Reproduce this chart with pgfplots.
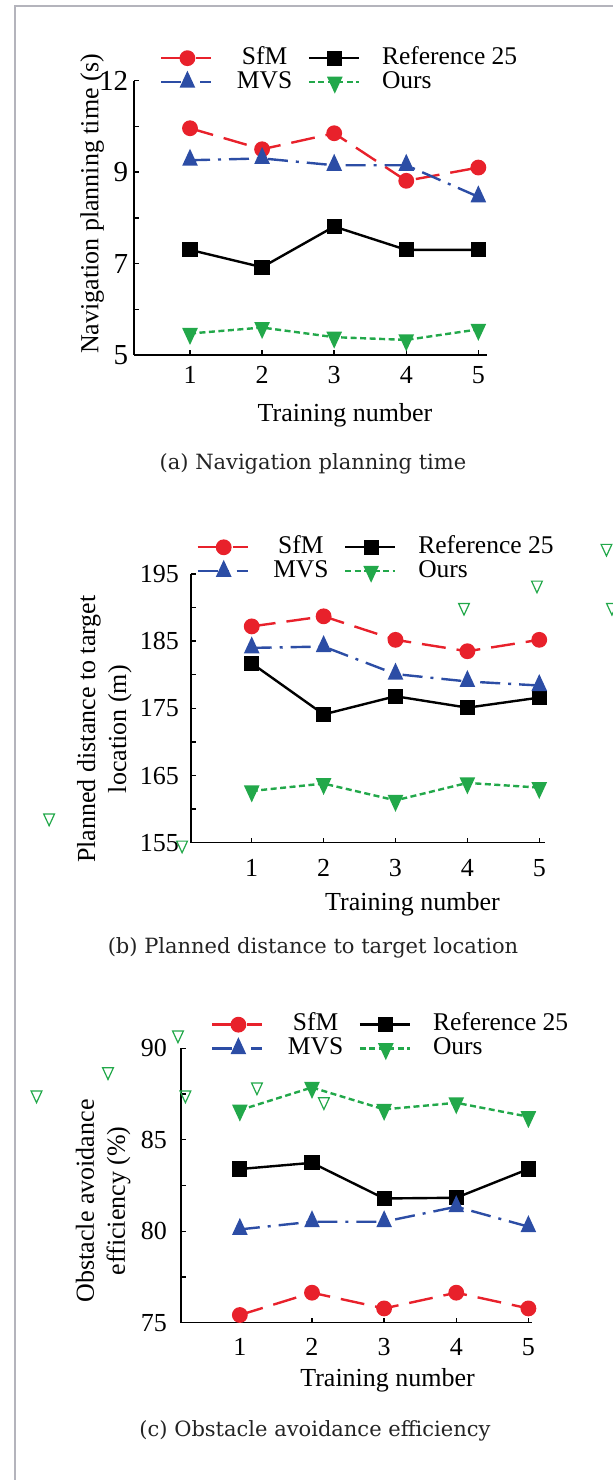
\documentclass[border=0pt]{standalone}
\usepackage{fontspec}
\usepackage{pgfplots}
\pgfplotsset{compat=1.18}
\setmainfont{Liberation Serif}
\newfontfamily\capfont{DejaVu Serif}

\definecolor{sfmred}{RGB}{232,33,43}
\definecolor{mvsblue}{RGB}{44,77,165}
\definecolor{oursgreen}{RGB}{34,168,74}
\definecolor{framegray}{RGB}{180,180,188}
\definecolor{captext}{RGB}{35,35,35}

\tikzset{captionnode/.style={font=\capfont\fontsize{21bp}{24bp}\selectfont,text=captext,anchor=base}}

\pgfplotsset{
  trainaxis/.style={
    scale only axis,
    anchor=south west,
    axis x line*=bottom,
    axis y line*=left,
    axis line style={line width=1.6bp,-},
    xtick={1,2,3,4,5},
    tick align=inside,
    major tick length=5bp,
    tick style={line width=1.4bp,black},
    /pgf/number format/assume math mode=true,
    tick label style={font=\fontsize{26bp}{28bp}\selectfont},
    xticklabel style={anchor=north,inner sep=0pt,text height=17bp,text depth=0pt},
    yticklabel style={anchor=east,inner sep=0pt,text height=17bp,text depth=0pt},
    label style={font=\fontsize{26bp}{31bp}\selectfont},
    xlabel={Training number},
    clip=false,
    legend columns=2,
    legend cell align=left,
    legend style={draw=none,fill=none,inner sep=0pt,row sep=0pt,
      font=\fontsize{25.5bp}{28bp}\selectfont,
      nodes={inner sep=0pt,text height=18bp,text depth=6bp},
      /tikz/every odd column/.append style={column sep=22bp},
      /tikz/every even column/.append style={column sep=13bp}},
    legend image code/.code={%
      \draw[mark repeat=2,mark phase=2,##1] plot coordinates {(0bp,0bp) (26bp,0bp) (50bp,0bp)};},
  },
  sfm/.style={color=sfmred,line width=2.4bp,dash pattern=on 24bp off 11bp,
    mark=*,mark size=6.7bp,mark options={solid,fill=sfmred}},
  refer/.style={color=black,line width=2.4bp,solid,
    mark=square*,mark size=6.4bp,mark options={solid,fill=black}},
  mvs/.style={color=mvsblue,line width=2.4bp,dash pattern=on 20bp off 8bp on 3bp off 8bp,
    mark=triangle*,mark size=6.9bp,mark options={solid,fill=mvsblue,yscale=1.25}},
  ours/.style={color=oursgreen,line width=2.4bp,dash pattern=on 6bp off 3.5bp,
    mark=triangle*,mark size=6.9bp,mark options={solid,fill=oursgreen,yscale=-1.25}},
  stray/.style={only marks,mark=triangle,mark size=6.2bp,draw=oursgreen,
    mark options={solid,yscale=-1.25,line width=1.2bp},forget plot},
}

\begin{document}
\begin{tikzpicture}
\path[use as bounding box] (0bp,0bp) rectangle (613bp,1480bp);
\draw[framegray,line width=1.5bp] (15bp,0bp) -- (15bp,1474bp) -- (613bp,1474bp);

% (a) Navigation planning time
\begin{axis}[trainaxis,
  at={(134bp,1125bp)}, width=353bp, height=274.3bp,
  xmin=0.223, xmax=5.12, ymin=5, ymax=11,
  ytick={5,...,11}, yticklabels={5,,7,,9,,12},
  xticklabel style={yshift=-11.7bp},
  yticklabel style={xshift=-5.7bp,font=\fontsize{29bp}{30bp}\selectfont,text height=19bp},
  ylabel={Navigation planning time (s)},
  ylabel style={at={(axis description cs:-0.1187,0.5505)},anchor=center},
  xlabel style={at={(axis description cs:0.5977,-0.2432)},anchor=base},
  legend style={at={(axis description cs:0.0737,1.1265)},anchor=north west}]
\addplot[sfm] coordinates {(1,9.96) (2,9.50) (3,9.85) (4,8.81) (5,9.10)};
\addlegendentry{\makebox[60bp][c]{SfM}}
\addplot[refer] coordinates {(1,7.30) (2,6.92) (3,7.81) (4,7.30) (5,7.30)};
\addlegendentry{Reference 25}
\addplot[mvs] coordinates {(1,9.26) (2,9.30) (3,9.15) (4,9.15) (5,8.46)};
\addlegendentry{\makebox[60bp][c]{MVS}}
\addplot[ours] coordinates {(1,5.47) (2,5.60) (3,5.39) (4,5.33) (5,5.56)};
\addlegendentry{Ours}
\end{axis}
\node[captionnode] at (313bp,1010bp) {(a) Navigation planning time};

% (b) Planned distance to target location
\begin{axis}[trainaxis,
  at={(191bp,637.3bp)}, width=354bp, height=268.7bp,
  xmin=0.155, xmax=5.08, ymin=155, ymax=195,
  ytick={155,160,...,195}, yticklabels={155,,165,,175,,185,,195},
  xticklabel style={yshift=-17bp}, yticklabel style={xshift=-12bp},
  ylabel={Planned distance to target\\location (m)},
  ylabel style={align=center,at={(axis description cs:-0.245,0.4226)},anchor=center},
  xlabel style={at={(axis description cs:0.6257,-0.2505)},anchor=base},
  legend style={at={(axis description cs:0.015,1.1448)},anchor=north west}]
\addplot[sfm] coordinates {(1,187.2) (2,188.7) (3,185.2) (4,183.5) (5,185.2)};
\addlegendentry{\makebox[60bp][c]{SfM}}
\addplot[refer] coordinates {(1,181.7) (2,174.1) (3,176.8) (4,175.1) (5,176.6)};
\addlegendentry{Reference 25}
\addplot[mvs] coordinates {(1,184.0) (2,184.2) (3,180.1) (4,179.0) (5,178.4)};
\addlegendentry{\makebox[60bp][c]{MVS}}
\addplot[ours] coordinates {(1,162.7) (2,163.8) (3,161.3) (4,163.9) (5,163.2)};
\addlegendentry{Ours}
\addplot[stray] coordinates {(5.935,198.83) (4.968,193.36) (3.953,190.04) (6.011,190.04) (-1.819,158.68) (0.031,154.66)};
\end{axis}
\node[captionnode] at (313bp,526bp) {(b) Planned distance to target location};

% (c) Obstacle avoidance efficiency
\begin{axis}[trainaxis,
  at={(181bp,157.3bp)}, width=351bp, height=274.4bp,
  xmin=0.184, xmax=5.05, ymin=75, ymax=90,
  ytick={75,77.5,...,90}, yticklabels={75,,80,,85,,90},
  xticklabel style={yshift=-15.6bp}, yticklabel style={xshift=-14bp},
  ylabel={Obstacle avoidance\\efficiency (\%)},
  ylabel style={align=center,at={(axis description cs:-0.222,0.444)},anchor=center},
  xlabel style={at={(axis description cs:0.5886,-0.2332)},anchor=base},
  legend style={at={(axis description cs:0.0855,1.1305)},anchor=north west}]
\addplot[sfm] coordinates {(1,75.42) (2,76.64) (3,75.78) (4,76.64) (5,75.78)};
\addlegendentry{\makebox[60bp][c]{SfM}}
\addplot[refer] coordinates {(1,83.40) (2,83.74) (3,81.79) (4,81.83) (5,83.40)};
\addlegendentry{Reference 25}
\addplot[mvs] coordinates {(1,80.10) (2,80.52) (3,80.52) (4,81.34) (5,80.25)};
\addlegendentry{\makebox[60bp][c]{MVS}}
\addplot[ours] coordinates {(1,86.62) (2,87.86) (3,86.66) (4,87.02) (5,86.26)};
\addlegendentry{Ours}
\addplot[stray] coordinates {(0.142,90.73) (-0.828,88.72) (-1.819,87.45) (0.245,87.45) (1.237,87.89) (2.165,87.08)};
\end{axis}
\node[captionnode] at (315bp,43.3bp) {(c) Obstacle avoidance efficiency};
\end{tikzpicture}
\end{document}
